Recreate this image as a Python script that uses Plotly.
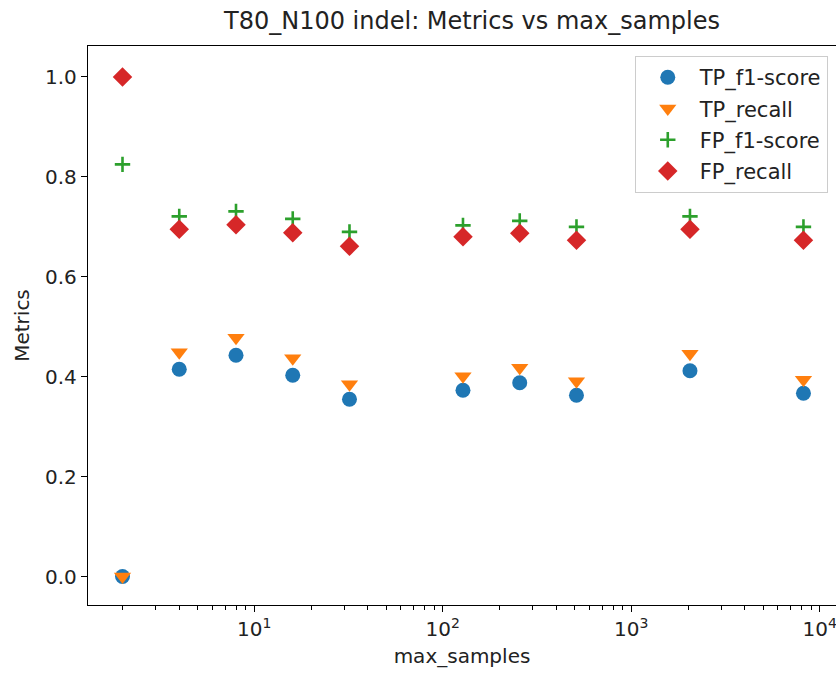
import plotly.graph_objects as go

max_samples = [2, 4, 8, 16, 32, 128, 256, 512, 2048, 8192]
tp_f1 = [0.0, 0.415, 0.443, 0.403, 0.355, 0.373, 0.388, 0.363, 0.412, 0.367]
tp_recall = [0.0, 0.449, 0.478, 0.437, 0.385, 0.401, 0.418, 0.391, 0.446, 0.394]
fp_f1 = [0.825, 0.721, 0.731, 0.716, 0.690, 0.703, 0.712, 0.700, 0.721, 0.700]
fp_recall = [1.0, 0.695, 0.704, 0.688, 0.661, 0.680, 0.687, 0.673, 0.695, 0.673]

x_tickvals = [10, 100, 1000, 10000]
x_ticktext = ["10<sup>1</sup>", "10<sup>2</sup>", "10<sup>3</sup>", "10<sup>4</sup>"]
y_tickvals = [0.0, 0.2, 0.4, 0.6, 0.8, 1.0]
y_ticktext = ["0.0", "0.2", "0.4", "0.6", "0.8", "1.0"]

minor_vals = [m * 10 ** k for k in range(0, 5) for m in range(2, 10)]

FONT = "DejaVu Sans"
TXT = "#222222"

fig = go.Figure()
fig.add_trace(go.Scatter(x=max_samples, y=tp_f1, mode="markers", name="TP_f1-score", legendgroup="a",
                         marker=dict(symbol="circle", size=15, color="#1f77b4")))
fig.add_trace(go.Scatter(x=max_samples, y=tp_recall, mode="markers", name="TP_recall", legendgroup="b",
                         marker=dict(symbol="triangle-down", size=15, color="#ff7f0e")))
fig.add_trace(go.Scatter(x=max_samples, y=fp_f1, mode="markers", name="FP_f1-score", legendgroup="c",
                         marker=dict(symbol="cross-thin", size=11, color="#2ca02c",
                                     line=dict(width=2.6, color="#2ca02c"))))
fig.add_trace(go.Scatter(x=max_samples, y=fp_recall, mode="markers", name="FP_recall", legendgroup="d",
                         marker=dict(symbol="diamond", size=15, color="#d62728")))

fig.update_layout(
    width=836, height=677,
    margin=dict(l=88, r=0, t=46, b=72),
    plot_bgcolor="white", paper_bgcolor="white",
    font=dict(family=FONT, size=20, color=TXT),
    title=dict(text="T80_N100 indel: Metrics vs max_samples", x=472 / 836, xanchor="center",
               y=1 - 21 / 677, yanchor="middle", font=dict(size=24, family=FONT, color=TXT)),
    legend=dict(x=0.989, y=0.982, xanchor="right", yanchor="top",
                bordercolor="#cccccc", borderwidth=1, bgcolor="rgba(255,255,255,0.8)",
                font=dict(size=21, family=FONT, color=TXT),
                itemwidth=54, tracegroupgap=1, itemsizing="trace"),
    showlegend=True,
)

fig.update_xaxes(
    type="log", range=[0.118, 4.086],
    tickvals=x_tickvals, ticktext=x_ticktext, ticklabeloverflow="allow",
    showgrid=False, zeroline=False,
    showline=True, linecolor="black", linewidth=1.3, mirror=True,
    ticks="outside", ticklen=6, tickwidth=1.3, tickcolor="black",
    minor=dict(tickvals=minor_vals, ticks="outside", ticklen=4, tickwidth=1, tickcolor="black", showgrid=False),
    title=dict(text="max_samples", font=dict(size=20, family=FONT, color=TXT), standoff=8),
    tickfont=dict(size=20, family=FONT, color=TXT),
)
fig.update_yaxes(
    range=[-0.057, 1.062],
    tickvals=y_tickvals, ticktext=y_ticktext,
    showgrid=False, zeroline=False,
    showline=True, linecolor="black", linewidth=1.3, mirror=False,
    ticks="outside", ticklen=6, tickwidth=1.3, tickcolor="black",
    title=dict(text="Metrics", font=dict(size=20, family=FONT, color=TXT), standoff=10),
    tickfont=dict(size=20, family=FONT, color=TXT),
)

fig.write_html("out.html")
